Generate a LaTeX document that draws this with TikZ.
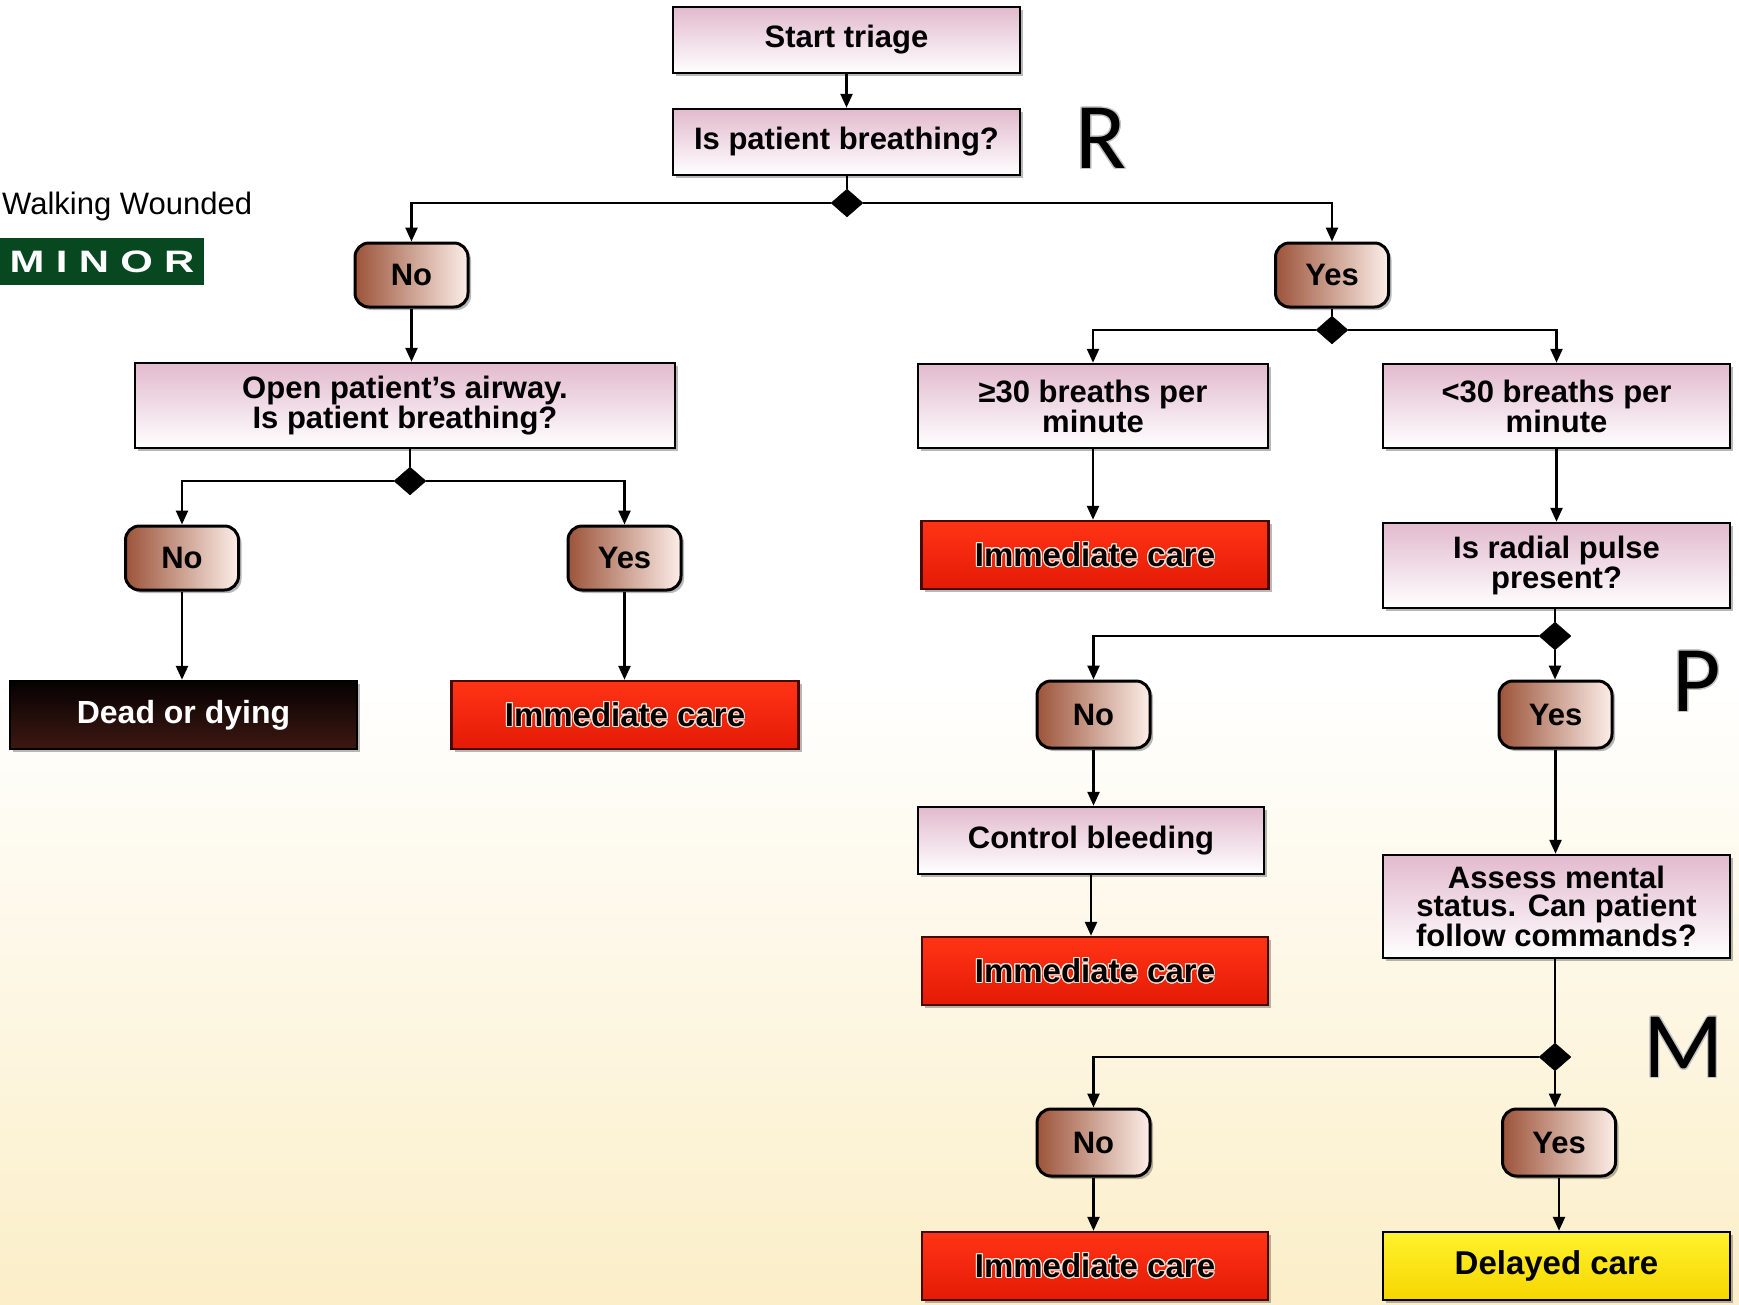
\documentclass[tikz,border=0pt]{standalone}
\usepackage{fontspec}
\setmainfont{Liberation Sans}
\newfontfamily\carlfont{Carlito}
\usepackage{graphicx}
\usepackage{contour}
\contourlength{1.1pt}
\contournumber{24}
\usetikzlibrary{shapes.geometric,arrows.meta,shadows}
\definecolor{pinktop}{RGB}{226,186,206}
\definecolor{brownL}{RGB}{156,84,58}
\definecolor{brownR}{RGB}{252,238,232}
\definecolor{redT}{RGB}{255,52,22}
\definecolor{redB}{RGB}{228,26,6}
\definecolor{redD}{RGB}{70,8,0}
\definecolor{darkT}{RGB}{5,2,2}
\definecolor{darkB}{RGB}{62,24,18}
\definecolor{yelT}{RGB}{255,242,45}
\definecolor{yelB}{RGB}{246,214,0}
\definecolor{minorgreen}{RGB}{8,72,32}
\definecolor{cream}{RGB}{251,238,200}
\definecolor{halo}{RGB}{255,225,212}
\tikzset{
  x=1pt, y=-1pt,
  every node/.style={font=\fontsize{31}{28}\selectfont\bfseries, inner sep=0pt, align=center},
  shad/.style={drop shadow={shadow xshift=3pt, shadow yshift=-3pt, opacity=0.28, fill=black}},
  procbox/.style={draw=black, line width=2.5pt, top color=pinktop, bottom color=white, minimum width=347pt, shad},
  yn/.style={draw=black, line width=3pt, rounded corners=14pt, left color=brownL, right color=brownR, minimum width=113pt, minimum height=64pt, shad},
  redbox/.style={draw=redD, line width=2.5pt, top color=redT, bottom color=redB, minimum width=347pt, minimum height=68pt, font=\fontsize{33}{33}\selectfont\bfseries, shad},
  darkbox/.style={draw=black, line width=2.5pt, top color=darkT, bottom color=darkB, minimum width=347pt, minimum height=68pt, text=white, font=\fontsize{32}{32}\selectfont\bfseries, shad},
  yelbox/.style={draw=black, line width=2.5pt, top color=yelT, bottom color=yelB, minimum width=347pt, minimum height=68pt, font=\fontsize{33}{33}\selectfont\bfseries, shad},
  dia/.style={diamond, fill=black, draw=black, minimum width=32pt, minimum height=28pt, inner sep=0pt},
  ln/.style={line width=2.5pt},
  arr/.style={line width=2.5pt, -{Triangle[length=14pt,width=12pt]}},
  bigletter/.style={font=\carlfont\fontsize{94}{94}\selectfont}
}
\begin{document}
\begin{tikzpicture}
% background
\fill[white] (0,0) rectangle (1739,1304);
\useasboundingbox (0,0) rectangle (1739,1304);
\shade[top color=white, bottom color=cream] (0,680) rectangle (1739,1304);

% side legend
\node[font=\fontsize{31}{31}\selectfont, anchor=west] (walk) at (2,206) {Walking Wounded};
\node[fill=minorgreen, minimum width=204pt, minimum height=47pt, text=white,
      font=\fontsize{31}{31}\selectfont\bfseries] (minor) at (102,261.5)
      {\scalebox{1.35}[1]{\addfontfeature{LetterSpace=27}MINOR}};

% big letters
\node[bigletter] (R) at (1101,139) {\contour{gray!45}{R}};
\node[bigletter] (P) at (1697,682) {\contour{gray!45}{P}};
\node[bigletter] (M) at (1684,1048) {\contour{gray!45}{M}};

% top
\node[procbox, minimum height=66pt] (start) at (846.5,40) {Start triage};
\node[procbox, minimum height=66pt] (breath) at (846.5,142) {Is patient breathing?};
\node[dia] (d1) at (847,203) {};
\node[yn] (no1) at (411.5,275) {No};
\node[yn] (yes1) at (1332,275) {Yes};

% left branch
\node[procbox, minimum width=540pt, minimum height=85pt] (airway) at (405,405.5) {Open patient’s airway.\\Is patient breathing?};
\node[dia] (d2) at (410,481) {};
\node[yn] (no2) at (182,558) {No};
\node[yn] (yes2) at (624.5,558) {Yes};
\node[darkbox] (dead) at (183.5,715) {Dead or dying};
\node[redbox] (imm1) at (625,715) {\contour{halo}{Immediate care}};

% right branch
\node[dia] (d3) at (1332,330) {};
\node[procbox, minimum width=350pt, minimum height=84pt] (ge30) at (1093,406) {≥30 breaths per\\minute};
\node[procbox, minimum height=84pt] (lt30) at (1556.5,406) {<30 breaths per\\minute};
\node[redbox] (imm2) at (1095,555) {\contour{halo}{Immediate care}};
\node[procbox, minimum height=85pt] (radial) at (1556.5,565.5) {Is radial pulse\\present?};
\node[dia] (d4) at (1555,636) {};
\node[yn, minimum height=67pt] (no3) at (1093.5,714.5) {No};
\node[yn, minimum height=67pt] (yes3) at (1555.5,714.5) {Yes};
\node[procbox, minimum width=346pt, minimum height=67pt] (control) at (1091,840.5) {Control bleeding};
\node[redbox, minimum width=346pt] (imm3) at (1095,971) {\contour{halo}{Immediate care}};
\node[procbox, minimum height=103pt] (assess) at (1556.5,906.5) {Assess mental\\status. Can patient\\follow commands?};
\node[dia] (d5) at (1555,1057) {};
\node[yn, minimum height=67pt] (no4) at (1093.5,1142.5) {No};
\node[yn, minimum height=67pt] (yes4) at (1559,1142.5) {Yes};
\node[redbox, minimum width=346pt] (imm4) at (1095,1266) {\contour{halo}{Immediate care}};
\node[yelbox] (delayed) at (1556.5,1266) {Delayed care};

% connectors
\draw[arr] (start) -- (breath);
\draw[ln] (breath.south -| d1) -- (d1);
\draw[arr] (d1) -| (no1);
\draw[arr] (d1) -| (yes1);
\draw[arr] (no1) -- (no1 |- airway.north);
\draw[ln] (airway.south -| d2) -- (d2);
\draw[arr] (d2) -| (no2);
\draw[arr] (d2) -| (yes2);
\draw[arr] (no2) -- (no2 |- dead.north);
\draw[arr] (yes2) -- (yes2 |- imm1.north);

\draw[ln] (yes1) -- (d3);
\draw[arr] (d3) -| (ge30);
\draw[arr] (d3) -| (lt30);
\draw[arr] (ge30) -- (ge30 |- imm2.north);
\draw[arr] (lt30) -- (radial);
\draw[ln] (radial.south -| d4) -- (d4);
\draw[arr] (d4) -| (no3);
\draw[arr] (d4) -- (d4 |- yes3.north);
\draw[arr] (no3) -- (no3 |- control.north);
\draw[arr] (control) -- (control |- imm3.north);
\draw[arr] (yes3) -- (yes3 |- assess.north);
\draw[ln] (assess.south -| d5) -- (d5);
\draw[arr] (d5) -| (no4);
\draw[arr] (d5) -- (d5 |- yes4.north);
\draw[arr] (no4) -- (no4 |- imm4.north);
\draw[arr] (yes4) -- (yes4 |- delayed.north);
\end{tikzpicture}
\end{document}
